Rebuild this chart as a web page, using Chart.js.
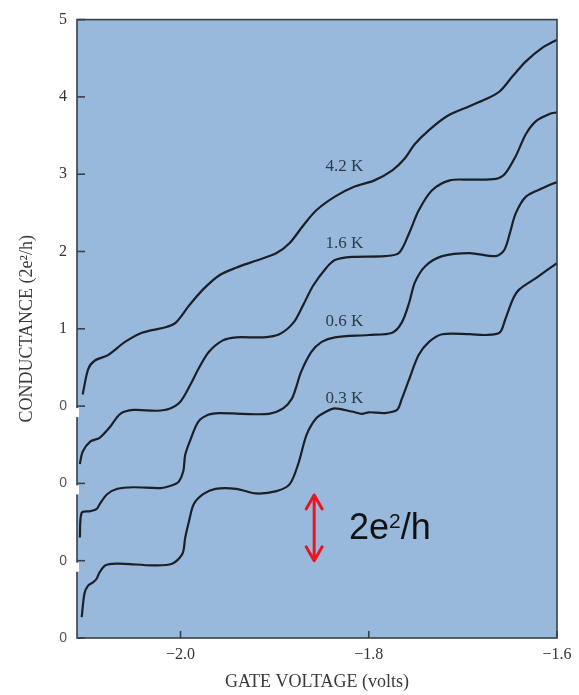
<!DOCTYPE html>
<html><head><meta charset="utf-8">
<script src="https://cdn.jsdelivr.net/npm/chart.js@4.4.0/dist/chart.umd.min.js"></script>
<style>html,body{margin:0;padding:0;background:#fff;}#wrap{width:579px;height:695px;}</style>
</head><body><div id="wrap"><canvas id="c" width="579" height="695"></canvas></div>
<script>
// ---- data (conductance in units of 2e^2/h, curves offset vertically) ----
const temps = ['0.3 K', '0.6 K', '1.6 K', '4.2 K'];
const offsets = [0, 1, 2, 3];

const gate03 = [-2.105,-2.102,-2.098,-2.093,-2.089,-2.086,-2.080,-2.073,-2.059,-2.030,-2.009,-1.998,-1.995,-1.991,-1.986,-1.976,-1.963,-1.941,-1.920,-1.898,-1.884,-1.875,-1.866,-1.856,-1.845,-1.836,-1.818,-1.807,-1.800,-1.783,-1.770,-1.765,-1.757,-1.747,-1.736,-1.722,-1.693,-1.676,-1.661,-1.655,-1.647,-1.640,-1.622,-1.600];
const cond03 = [0.27,0.58,0.68,0.72,0.77,0.85,0.94,0.96,0.96,0.94,0.96,1.09,1.30,1.51,1.73,1.86,1.93,1.93,1.87,1.90,1.99,2.25,2.63,2.84,2.93,2.97,2.93,2.90,2.92,2.91,2.95,3.09,3.35,3.66,3.83,3.93,3.93,3.92,3.95,4.12,4.38,4.51,4.66,4.85];

const gate06 = [-2.107,-2.105,-2.096,-2.089,-2.086,-2.078,-2.067,-2.050,-2.021,-2.008,-2.002,-1.997,-1.995,-1.989,-1.981,-1.970,-1.959,-1.934,-1.906,-1.891,-1.882,-1.877,-1.872,-1.861,-1.850,-1.836,-1.800,-1.775,-1.765,-1.757,-1.751,-1.740,-1.722,-1.693,-1.665,-1.656,-1.650,-1.644,-1.633,-1.615,-1.600];
const cond06 = [0.30,0.62,0.64,0.67,0.73,0.86,0.93,0.95,0.94,0.98,1.02,1.16,1.37,1.58,1.80,1.89,1.91,1.90,1.90,1.97,2.09,2.25,2.44,2.70,2.83,2.89,2.92,2.95,3.08,3.34,3.60,3.81,3.94,3.98,3.94,4.02,4.24,4.49,4.71,4.82,4.90];

const gate16 = [-2.107,-2.104,-2.096,-2.086,-2.075,-2.064,-2.050,-2.025,-2.011,-2.000,-1.989,-1.981,-1.970,-1.955,-1.941,-1.912,-1.895,-1.880,-1.870,-1.859,-1.845,-1.836,-1.818,-1.783,-1.768,-1.757,-1.747,-1.733,-1.714,-1.693,-1.665,-1.655,-1.644,-1.633,-1.622,-1.608,-1.600];
const cond16 = [0.25,0.41,0.54,0.59,0.73,0.90,0.95,0.94,0.97,1.06,1.29,1.48,1.70,1.85,1.89,1.89,1.93,2.08,2.30,2.56,2.79,2.89,2.93,2.94,2.98,3.24,3.53,3.79,3.92,3.93,3.94,4.01,4.23,4.52,4.69,4.78,4.80];

const gate42 = [-2.104,-2.098,-2.091,-2.077,-2.059,-2.041,-2.016,-2.005,-1.991,-1.976,-1.959,-1.941,-1.920,-1.898,-1.884,-1.870,-1.856,-1.836,-1.815,-1.794,-1.775,-1.762,-1.751,-1.736,-1.717,-1.693,-1.676,-1.661,-1.647,-1.633,-1.615,-1.600];
const cond42 = [0.15,0.48,0.59,0.66,0.83,0.95,1.02,1.08,1.30,1.51,1.69,1.79,1.88,1.98,2.11,2.33,2.53,2.71,2.84,2.92,3.05,3.20,3.39,3.57,3.75,3.88,3.97,4.07,4.27,4.46,4.64,4.74];

const gates = [gate03, gate06, gate16, gate42];
const conds = [cond03, cond06, cond16, cond42];

const xTickValues = [-2.0, -1.8, -1.6];
const yTickValues = [0, 1, 2, 3, 4, 5, 6, 7, 8];
const yTickLabels = ['0', '0', '0', '0', '1', '2', '3', '4', '5'];

// annotation anchors (data units)
const labelGate = -1.826, labelCond = 3.1;
const arrowGate = -1.858, arrowLow = 1.0, arrowHigh = 1.85;
const noteGate = -1.821, noteCond = 1.28;

const datasets = temps.map((t, i) => ({
  label: t,
  data: gates[i].map((g, j) => ({x: g, y: conds[i][j] + offsets[i]})),
  borderColor: '#1b1f28',
  borderWidth: 2.2,
  pointRadius: 0,
  fill: false,
  tension: 0.3
}));

const decor = {
  id: 'decor',
  beforeDatasetsDraw(chart) {
    const {ctx, chartArea: a} = chart;
    ctx.save();
    ctx.fillStyle = '#98b9dc';
    ctx.fillRect(a.left, a.top, a.right - a.left, a.bottom - a.top);
    ctx.restore();
  },
  afterDatasetsDraw(chart) {
    const {ctx, chartArea: a, scales: {x, y}} = chart;
    ctx.save();
    // frame
    ctx.strokeStyle = '#3a3f47';
    ctx.lineWidth = 1.6;
    ctx.strokeRect(a.left, a.top, a.right - a.left, a.bottom - a.top);
    // inward ticks
    yTickValues.forEach(v => {
      const py = y.getPixelForValue(v);
      ctx.beginPath(); ctx.moveTo(a.left, py); ctx.lineTo(a.left + 8, py); ctx.stroke();
    });
    xTickValues.forEach(v => {
      const px = x.getPixelForValue(v);
      ctx.beginPath(); ctx.moveTo(px, a.bottom); ctx.lineTo(px, a.bottom - 7); ctx.stroke();
    });
    // breaks in the left axis under the offset zeros
    ctx.fillStyle = '#ffffff';
    offsets.slice(1).forEach(o => {
      const py = y.getPixelForValue(o);
      ctx.fillRect(a.left - 3, py + 2, 5, 9);
    });
    // curve labels
    ctx.fillStyle = '#2e3b4b';
    ctx.font = '17px "Liberation Serif"';
    ctx.textAlign = 'center';
    ctx.textBaseline = 'middle';
    temps.forEach((t, i) => {
      ctx.fillText(t, x.getPixelForValue(labelGate), y.getPixelForValue(labelCond + offsets[i]));
    });
    // red double arrow
    const ax = x.getPixelForValue(arrowGate);
    const y1 = y.getPixelForValue(arrowHigh), y2 = y.getPixelForValue(arrowLow);
    ctx.strokeStyle = '#ea1520';
    ctx.lineWidth = 3;
    ctx.lineCap = 'round';
    ctx.lineJoin = 'round';
    ctx.beginPath(); ctx.moveTo(ax, y1 + 1); ctx.lineTo(ax, y2 - 1); ctx.stroke();
    ctx.beginPath(); ctx.moveTo(ax - 8, y1 + 14); ctx.lineTo(ax, y1); ctx.lineTo(ax + 8, y1 + 14); ctx.stroke();
    ctx.beginPath(); ctx.moveTo(ax - 8, y2 - 14); ctx.lineTo(ax, y2); ctx.lineTo(ax + 8, y2 - 14); ctx.stroke();
    // 2e^2/h text
    let tx = x.getPixelForValue(noteGate);
    const ty = y.getPixelForValue(noteCond);
    ctx.fillStyle = '#111111';
    ctx.textAlign = 'left';
    ctx.textBaseline = 'alphabetic';
    ctx.font = '36px "Liberation Sans"';
    ctx.fillText('2e', tx, ty);
    tx += ctx.measureText('2e').width;
    ctx.font = '21px "Liberation Sans"';
    ctx.fillText('2', tx, ty - 11);
    tx += ctx.measureText('2').width;
    ctx.font = '36px "Liberation Sans"';
    ctx.fillText('/h', tx, ty);
    ctx.restore();
  }
};

new Chart(document.getElementById('c'), {
  type: 'line',
  data: {datasets},
  plugins: [decor],
  options: {
    responsive: false,
    animation: false,
    devicePixelRatio: 1,
    layout: {padding: {left: 0, right: 22, top: 14, bottom: 0}},
    plugins: {legend: {display: false}, tooltip: {enabled: false}},
    scales: {
      x: {
        type: 'linear',
        min: -2.11, max: -1.6,
        afterBuildTicks: s => { s.ticks = xTickValues.map(v => ({value: v})); },
        afterFit: s => { s.height = 57; },
        ticks: {
          autoSkip: false, maxRotation: 0, padding: 7,
          color: '#333333',
          font: {family: 'Liberation Serif', size: 16},
          callback: v => (v < 0 ? '\u2212' : '') + Math.abs(v).toFixed(1)
        },
        grid: {display: false, drawTicks: false},
        border: {display: false},
        title: {display: true, text: 'GATE VOLTAGE (volts)', color: '#3a3a3a',
                font: {family: 'Liberation Serif', size: 18}, padding: {top: 0, bottom: 2}}
      },
      y: {
        type: 'linear',
        min: 0, max: 8,
        afterBuildTicks: s => { s.ticks = yTickValues.map(v => ({value: v})); },
        afterFit: s => { s.width = 77; },
        ticks: {
          autoSkip: false, padding: 10,
          color: c => (c.tick && c.tick.value < 4) ? '#555555' : '#333333',
          font: c => (c.tick && c.tick.value < 4) ? {family: 'Liberation Sans', size: 14} : {family: 'Liberation Serif', size: 16},
          callback: v => yTickLabels[yTickValues.indexOf(v)]
        },
        grid: {display: false, drawTicks: false},
        border: {display: false},
        title: {display: true, text: 'CONDUCTANCE (2e\u00B2/h)', color: '#3a3a3a',
                font: {family: 'Liberation Serif', size: 18}, padding: {top: 16, bottom: 0}}
      }
    }
  }
});
</script>
</body></html>
